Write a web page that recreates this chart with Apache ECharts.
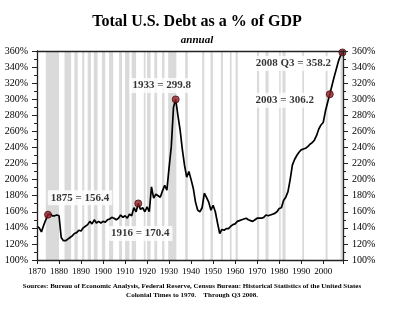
<!DOCTYPE html>
<html><head><meta charset="utf-8">
<script src="https://cdn.jsdelivr.net/npm/echarts@6/dist/echarts.min.js"></script>
<style>html,body{margin:0;padding:0;background:#fff}#c{width:405px;height:336px}</style>
</head><body><div id="c"></div>
<script>
// Data
const years = [];
for (let y = 1870; y <= 2008; y++) years.push(y);
years.push(2008.75);
const debtPct = [
142,140,135,143,150,156.4,157,155,155,156, // 1870-1879
155,128,124,124,126,128,130,133,134,137, // 1880-1889
136,140,142,144,148,145,150,146,148,146, // 1890-1899
148,147,150,151,153,152,150,152,156,153, // 1900-1909
155,152,157,155,165,160,170.4,163,165,160, // 1910-1919
166,160,191,177,182,180,178,186,193,187, // 1920-1929
215,241,290,299.8,280,262,238,218,203,210, // 1930-1939
200,189,172,162,160,165,183,178,172,162, // 1940-1949
168,160,146,133,138,137,139,139,142,144, // 1950-1959
145,148,149,150,151,152,150,149,148,150, // 1960-1969
152,152,152,153,156,155,156,157,158,160, // 1970-1979
164,165,174,178,185,200,218,225,230,234, // 1980-1989
237,238,239,241,244,246,249,255,263,268, // 1990-1999
271,285,296,306.2,317,328,338,348,355, // 2000-2008
358.2 // 2008 Q3
];
const markYears = [1875, 1916, 1933, 2003, 2008.75];
const markValues = [156.4, 170.4, 299.8, 306.2, 358.2];
const markLabels = ['1875 = 156.4', '1916 = 170.4', '1933 = 299.8', '2003 = 306.2', '2008 Q3 = 358.2'];
const recessions = [
[1874,1880],[1882.5,1885.5],[1887,1888.5],[1890.5,1891.5],[1893,1894.5],[1895.8,1897.5],
[1899.5,1901],[1902.7,1904.6],[1907.3,1908.6],[1910,1912],[1913,1915],[1918.5,1919.3],
[1920,1921.6],[1923.3,1924.6],[1926.8,1927.9],[1929.6,1933.3],[1937.3,1938.5],[1945,1946],
[1948.8,1949.9],[1953.5,1954.5],[1957.6,1958.4],[1960.2,1961.2],[1969.9,1970.9],[1973.8,1975.2],
[1980,1980.7],[1981.5,1982.9],[1990.5,1991.3],[2001.1,2002],[2007.9,2009]
];
const yTicks = {min:100, max:360, step:20};
const xTicks = {min:1870, max:2009, step:10};

const serif = 'Liberation Serif';
const lineData = years.map((y,i)=>[y, debtPct[i]]);
const labelOffsets = [[32,-17],[2,30],[-14,-14],[-45,6],[-49,11]];
const markData = markYears.map((y,i)=>({
  value:[y, markValues[i]],
  label:{show:true, formatter:markLabels[i], position:'inside', offset:labelOffsets[i]}
}));

const axisLineStyle = {color:'#222', width:1.3};
const yAxisBase = {
  type:'value', min:yTicks.min, max:yTicks.max, interval:yTicks.step, z:10,
  axisLine:{show:true, lineStyle:axisLineStyle},
  axisTick:{show:true, inside:false, length:5, lineStyle:{color:'#222'}},
  minorTick:{show:true, splitNumber:2, length:3, lineStyle:{color:'#222'}},
  splitLine:{show:false},
  axisLabel:{formatter:'{value}%', fontFamily:serif, fontSize:10, color:'#000', margin:9}
};

const chart = echarts.init(document.getElementById('c'), null, {renderer:'canvas'});
chart.setOption({
  animation:false,
  backgroundColor:'#fff',
  title:[
    {text:'Total U.S. Debt as a % of GDP', left:192, top:9, textAlign:'center',
     textStyle:{fontFamily:serif, fontWeight:'bold', fontSize:16, color:'#000'}},
    {text:'annual', left:192, top:30, textAlign:'center',
     textStyle:{fontFamily:serif, fontWeight:'bold', fontStyle:'italic', fontSize:11, color:'#000'}}
  ],
  graphic:[
    {type:'text', x:192, y:281, style:{
      text:'Sources: Bureau of Economic Analysis, Federal Reserve, Census Bureau: Historical Statistics of the United States\nColonial Times to 1970.    Through Q3 2008.',
      font:'bold 7px "Liberation Serif"', fill:'#000', textAlign:'center', lineHeight:9.5}}
  ],
  grid:{left:37, right:62, top:51, bottom:76, containLabel:false},
  xAxis:[
    {type:'value', min:xTicks.min, max:xTicks.max, interval:xTicks.step, z:10,
     axisLine:{show:true, onZero:false, lineStyle:axisLineStyle},
     axisTick:{show:true, length:4, lineStyle:{color:'#222'}},
     splitLine:{show:false},
     axisLabel:{fontFamily:serif, fontSize:9, color:'#000', margin:7,
       formatter:v=> (v % 10 === 0 && v <= 2000) ? String(v) : ''}},
    {type:'value', position:'top', min:xTicks.min, max:xTicks.max, z:10,
     axisLine:{show:true, onZero:false, lineStyle:axisLineStyle},
     axisTick:{show:false}, axisLabel:{show:false}, splitLine:{show:false}}
  ],
  yAxis:[
    Object.assign({}, yAxisBase, {position:'left'}),
    Object.assign({}, yAxisBase, {position:'right'})
  ],
  series:[
    {type:'line', z:1, data:lineData, showSymbol:false, silent:true,
     lineStyle:{opacity:0, width:0},
     markArea:{silent:true, itemStyle:{color:'#dadada'},
       data:recessions.map(r=>[{xAxis:r[0]},{xAxis:r[1]}])}},
    {type:'line', z:3, data:lineData, showSymbol:false, smooth:false,
     lineStyle:{color:'#000', width:1.7}},
    {type:'scatter', z:5, data:markData, symbolSize:7,
     itemStyle:{color:'#8e1f26', borderColor:'#4a0a0e', borderWidth:1},
     label:{fontFamily:serif, fontWeight:'bold', fontSize:11, color:'#000',
       backgroundColor:'#fff', padding:[2,3]}}
  ]
});
</script>
</body></html>
